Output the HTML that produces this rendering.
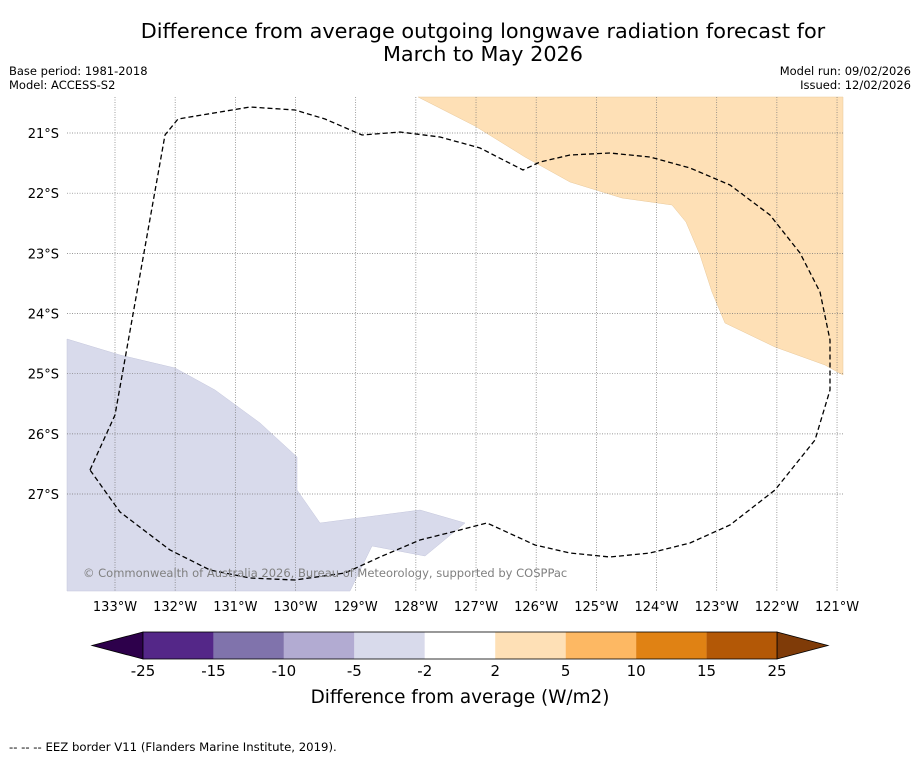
<!DOCTYPE html>
<html><head><meta charset="utf-8"><style>
body{margin:0;background:#fff;}
svg text{font-family:"DejaVu Sans","Liberation Sans",sans-serif;}
</style></head><body>
<svg width="919" height="758" viewBox="0 0 919 758" xmlns="http://www.w3.org/2000/svg">
<text x="483" y="38" font-size="20.8" text-anchor="middle">Difference from average outgoing longwave radiation forecast for</text>
<text x="483" y="61" font-size="20.8" text-anchor="middle">March to May 2026</text>
<text x="9" y="75" font-size="11.5">Base period: 1981-2018</text>
<text x="9" y="89" font-size="11.5">Model: ACCESS-S2</text>
<text x="911" y="75" font-size="11.5" text-anchor="end">Model run: 09/02/2026</text>
<text x="911" y="89" font-size="11.5" text-anchor="end">Issued: 12/02/2026</text>
<g id="map">
<rect x="67" y="97" width="776" height="494" fill="#fff"/>
<polygon fill="#fee0b6" stroke="#e8c89a" stroke-width="0.5" points="418,97 475,126 525,157 570,182 622,198 672,205 686,222 700,255 712,292 725,323 775,347 825,365 843,375 843,97"/>
<polygon fill="#d8daeb" stroke="#c4c6dc" stroke-width="0.5" points="67,339 120,355 175,368 215,390 260,423 297,457 297,490 320,523 420,510 465,523 425,556 372,546 350,591 67,591"/>
<g id="grid"></g>
<polyline fill="none" stroke="#000" stroke-width="1.3" stroke-dasharray="5,3" points="90,470 115,415 165,135 178,119 250,107 295,110 325,119 362,135 400,132 440,137 480,148 523,170 540,162 570,155 610,153 650,157 690,168 730,185 770,215 800,253 820,292 830,340 830,390 815,440 775,490 730,525 690,543 650,553 610,557 570,553 535,545 487,523 460,530 420,540 380,557 345,573 295,580 250,578 210,570 170,550 120,512 90,470"/>
<text x="83" y="577" font-size="11.5" fill="#808080">© Commonwealth of Australia 2026, Bureau of Meteorology, supported by COSPPac</text>
</g>
<g id="cbar"></g>
<text x="460" y="703" font-size="18.4" text-anchor="middle">Difference from average (W/m2)</text>
<text x="9" y="751" font-size="11.7">--  --  -- EEZ border V11 (Flanders Marine Institute, 2019).</text>
</svg>
<script>
const lonTicks=[133,132,131,130,129,128,127,126,125,124,123,122,121];
const latTicks=[21,22,23,24,25,26,27];
const cbEdges=[-25,-15,-10,-5,-2,2,5,10,15,25];
const cbColors=['#542788','#8073ac','#b2abd2','#d8daeb','#ffffff','#fee0b6','#fdb863','#e08214','#b35806'];
const NS='http://www.w3.org/2000/svg';
const xLon=l=>115+(133-l)*60.17;
const yLat=l=>133+(l-21)*60.17;
function mk(t,a,p){const e=document.createElementNS(NS,t);for(const k in a)e.setAttribute(k,a[k]);p.appendChild(e);return e;}
const svg=document.querySelector('svg');
const grid=document.getElementById('grid');
lonTicks.forEach(l=>{const x=xLon(l);
 const ln=mk('line',{x1:x,x2:x,y1:97,y2:591,stroke:'#777','stroke-width':0.7,'stroke-dasharray':'1,1.5'},grid);
 
 
 const t=mk('text',{x:x,y:611,'font-size':13,'text-anchor':'middle'},svg);t.textContent=l+'°W';
 
 
});
latTicks.forEach(l=>{const y=yLat(l);
 const ln=mk('line',{x1:67,x2:843,y1:y,y2:y,stroke:'#777','stroke-width':0.7,'stroke-dasharray':'1,1.5'},grid);
 
 
 const t=mk('text',{x:59,y:y+5,'font-size':13,'text-anchor':'end'},svg);t.textContent=l+'°S';
 
 
});
const cb=document.getElementById('cbar');
const cbx=i=>143+i*(634/(cbEdges.length-1));
const y0=632,y1=659;
const l=mk('polygon',{points:`143,${y0} 92,${(y0+y1)/2} 143,${y1}`,fill:'#2d004b',stroke:'#000','stroke-width':0.8},cb);


const r=mk('polygon',{points:`777,${y0} 828,${(y0+y1)/2} 777,${y1}`,fill:'#7f3b08',stroke:'#000','stroke-width':0.8},cb);


cbColors.forEach((c,i)=>{
 const b=mk('rect',{x:cbx(i),y:y0,width:cbx(i+1)-cbx(i),height:y1-y0,fill:c},cb);
 
 
});
mk('rect',{x:143,y:y0,width:634,height:y1-y0,fill:'none',stroke:'#000','stroke-width':0.8},cb);
cbEdges.forEach((v,i)=>{
 const t=mk('text',{x:cbx(i),y:676,'font-size':15,'text-anchor':'middle'},cb);t.textContent=v;
 
 
});
</script>
</body></html>
